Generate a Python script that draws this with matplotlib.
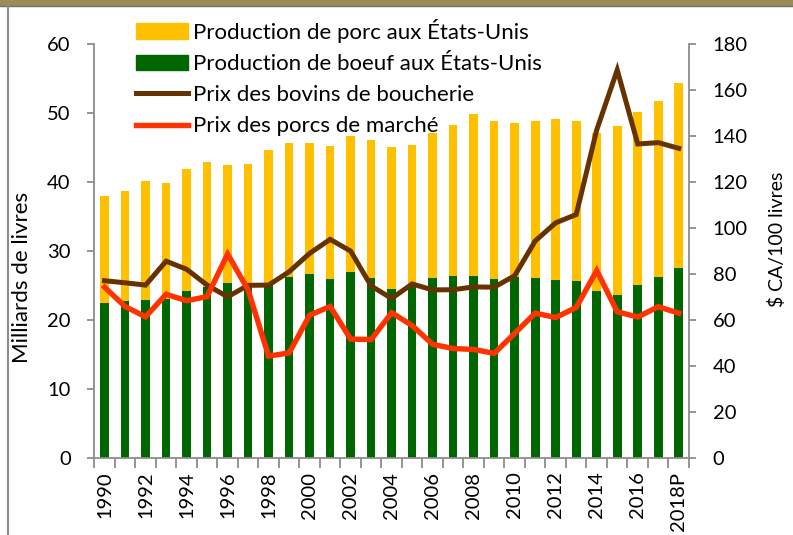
import numpy as np
import matplotlib
matplotlib.use("Agg")
import matplotlib.pyplot as plt
from matplotlib.patches import Rectangle
from matplotlib.lines import Line2D

# donnees
years = [str(y) for y in range(1990, 2018)] + ["2018P"]
beef = [22.5, 22.7, 22.9, 23.0, 24.2, 24.7, 25.3, 25.0, 25.2, 26.2, 26.7, 25.9, 27.0, 26.1,
        24.5, 25.0, 26.0, 26.3, 26.4, 25.9, 26.2, 26.0, 25.8, 25.6, 24.2, 23.6, 25.0, 26.2, 27.5]
pork = [15.4, 16.0, 17.2, 16.9, 17.7, 18.2, 17.2, 17.6, 19.4, 19.4, 19.0, 19.3, 19.7, 20.0,
        20.5, 20.3, 21.1, 22.0, 23.4, 23.0, 22.4, 22.8, 23.3, 23.2, 22.9, 24.5, 25.1, 25.6, 26.9]
cattle_price = [77.0, 76.1, 75.1, 85.5, 82.0, 75.1, 70.0, 75.0, 75.1, 80.9, 88.9, 95.0, 89.9, 74.7,
                69.3, 75.6, 73.0, 73.1, 74.3, 74.2, 79.2, 94.3, 102.2, 105.8, 142.6, 168.7, 136.5, 137.1, 134.6]
hog_price = [74.2, 65.8, 61.3, 71.1, 68.3, 70.1, 88.6, 73.0, 44.2, 45.6, 62.0, 65.8, 51.6, 51.4,
             63.1, 57.5, 49.3, 47.5, 47.1, 45.4, 54.1, 62.9, 61.0, 65.4, 81.4, 63.5, 61.2, 65.7, 62.9]

labels = ["Production de porc aux États-Unis", "Production de boeuf aux États-Unis",
          "Prix des bovins de boucherie", "Prix des porcs de marché"]

plt.rcParams['font.family'] = ['Lato', 'DejaVu Sans']
FS = 14.5      # graduations
FS_LAB = 16    # titre gauche et legende
GREY = '#8c8c8c'
BROWN, RED = '#663300', '#FF3300'

fig = plt.figure(figsize=(7.93, 5.35), dpi=100)
W, H = 793, 535
ax = fig.add_axes([94.3 / W, 1 - 457.7 / H, (689 - 94.3) / W, (457.7 - 44) / H])
ax2 = ax.twinx()

x = np.arange(len(years))
ax.bar(x, beef, width=0.42, color='#006600', zorder=2)
ax.bar(x, pork, width=0.42, bottom=beef, color='#FFC000', zorder=2)

ax2.plot(x, cattle_price, color=BROWN, lw=3.6, solid_joinstyle='miter')
ax2.plot(x, hog_price, color=RED, lw=3.9, solid_joinstyle='miter')

ax.set_xlim(-0.5, len(years) - 0.5)
ax.set_ylim(0, 60)
ax2.set_ylim(0, 180)
ax.set_yticks(range(0, 61, 10))
ax2.set_yticks(range(0, 181, 20))

# graduations entre les barres, etiquettes une annee sur deux
ax.set_xticks(np.arange(-0.5, len(years), 1.0))
ax.set_xticklabels([])
ax.set_xticks(x[::2], minor=True)
ax.set_xticklabels(years[::2], minor=True, rotation=90, fontsize=FS)
ax.tick_params(axis='x', which='minor', length=0, pad=10)
ax.tick_params(axis='x', which='major', length=7, width=1.3, color=GREY)

ax.tick_params(axis='y', length=5, width=1.3, color=GREY, labelsize=FS, pad=12)
ax2.tick_params(axis='y', length=5, width=1.3, color=GREY, labelsize=FS, pad=12)

for a in (ax, ax2):
    a.spines['top'].set_visible(False)
    for s in ('left', 'right', 'bottom'):
        a.spines[s].set_color(GREY)
        a.spines[s].set_linewidth(1.3)
ax.spines['right'].set_visible(False)
ax2.spines['left'].set_visible(False)
ax2.spines['bottom'].set_visible(False)

ax.set_ylabel("Milliards de livres", fontsize=FS_LAB)
ax.yaxis.set_label_coords(-0.104, 0.435)
ax2.set_ylabel("$ CA/100 livres", fontsize=14)
ax2.yaxis.set_label_coords(1.132, 0.527)

handles = [Rectangle((0, 0), 1, 1, color='#FFC000'), Rectangle((0, 0), 1, 1, color='#006600'),
           Line2D([], [], color=BROWN, lw=3.6), Line2D([], [], color=RED, lw=3.9)]
ax2.legend(handles, labels, loc='upper left', bbox_to_anchor=(136 / W, 1 - 19 / H),
           bbox_transform=fig.transFigure, frameon=False, fontsize=FS_LAB, borderaxespad=0,
           borderpad=0, handlelength=2.34, handletextpad=0.23, labelspacing=0.5)

# bordure de la diapositive
fig.patches.append(Rectangle((0, 1 - 5 / H), 1, 5 / H, transform=fig.transFigure,
                             color='#9C8B55', zorder=0))
fig.lines.append(Line2D([0, 1], [1 - 5.5 / H] * 2, transform=fig.transFigure, color='#6f6f6f', lw=1))
fig.lines.append(Line2D([7.5 / W] * 2, [0, 1 - 5.5 / H], transform=fig.transFigure, color=GREY, lw=1.5))

fig.savefig("out.png", dpi=100)
